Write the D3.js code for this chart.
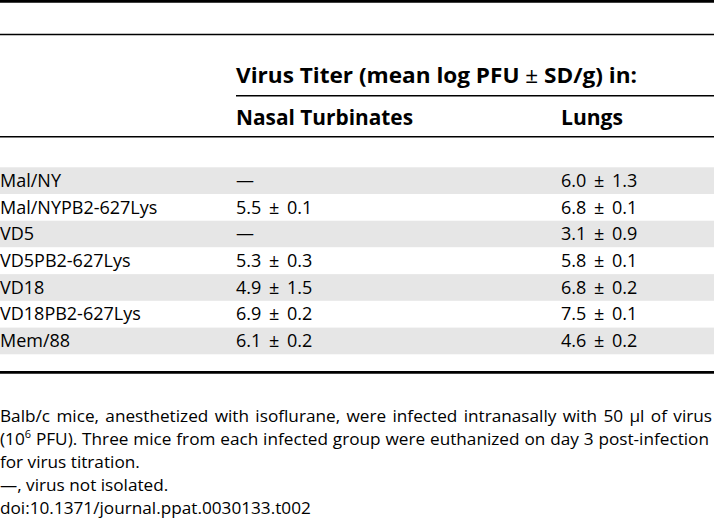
<!DOCTYPE html>
<html>
<head>
<meta charset="utf-8">
<script src="https://cdn.jsdelivr.net/npm/d3@7"></script>
<style>
  body { margin: 0; background: #fff; }
  svg text { font-family: "Open Sans", "Noto Sans", sans-serif; fill: #000; }
</style>
</head>
<body>
<script>
const w = 714;
const h = 521;

const strains = ["Mal/NY", "Mal/NYPB2-627Lys", "VD5", "VD5PB2-627Lys", "VD18", "VD18PB2-627Lys", "Mem/88"];
const nasalMean = [null, 5.5, null, 5.3, 4.9, 6.9, 6.1];
const nasalSD = [null, 0.1, null, 0.3, 1.5, 0.2, 0.2];
const lungMean = [6.0, 6.8, 3.1, 5.8, 6.8, 7.5, 4.6];
const lungSD = [1.3, 0.1, 0.9, 0.1, 0.2, 0.1, 0.2];
const groupHeader = ["Virus Titer (mean log PFU ", "\u00B1", " SD/g) in:"];
const columnHeaders = ["Nasal Turbinates", "Lungs"];
const footnotes = [
  "Balb/c mice, anesthetized with isoflurane, were infected intranasally with 50 \u00B5l of virus",
  "(10|6| PFU). Three mice from each infected group were euthanized on day 3 post-infection",
  "for virus titration.",
  "\u2014, virus not isolated.",
  "doi:10.1371/journal.ppat.0030133.t002"
];

const fmt = (m, s) => m == null ? "\u2014" : d3.format(".1f")(m) + " \u00B1 " + d3.format(".1f")(s);

const svg = d3.select("body")
              .append("svg")
              .attr("width", w)
              .attr("height", h)

const yScale = d3.scaleBand()
                 .domain(strains)
                 .range([167.3, 354.3])

const xCol = [0, 236, 561];

// striped rows
const rows = svg.selectAll(".row")
                .data(strains)
                .enter()
                .append("g")
                .attr("class", "row")
                .attr("transform", d => "translate(0," + yScale(d) + ")")

rows.append("rect")
    .attr("x", 0)
    .attr("width", w)
    .attr("height", yScale.bandwidth())
    .attr("fill", (d, i) => i % 2 == 0 ? "#e6e6e6" : "#fff")

rows.append("text")
    .attr("x", xCol[0])
    .attr("y", 19.5)
    .attr("font-size", 18)
    .text(d => d)

rows.append("text")
    .attr("x", xCol[1])
    .attr("y", 19.5)
    .attr("font-size", 18)
    .attr("word-spacing", 3)
    .text((d, i) => fmt(nasalMean[i], nasalSD[i]))

rows.append("text")
    .attr("x", xCol[2])
    .attr("y", 19.5)
    .attr("font-size", 18)
    .attr("word-spacing", 3)
    .text((d, i) => fmt(lungMean[i], lungSD[i]))

// rule lines
const rule = (y, x1, sw) => svg.append("line")
  .attr("x1", x1).attr("x2", w).attr("y1", y).attr("y2", y)
  .attr("stroke", "#000").attr("stroke-width", sw)
rule(1.3, 0, 2.7)
rule(34.4, 0, 1.5)
rule(95.7, 236, 1.4)
rule(136.7, 0, 1.4)
rule(372.3, 0, 2.7)

// header text
const head = svg.append("text")
   .attr("x", xCol[1])
   .attr("y", 82.7)
   .attr("font-size", 21.5)
   .attr("font-weight", "bold")
   .attr("textLength", 401)
   .attr("lengthAdjust", "spacingAndGlyphs")
groupHeader.forEach(function(part, j) {
  head.append("tspan")
      .attr("font-weight", j == 1 ? "normal" : null)
      .text(part)
})

svg.selectAll(".colhead")
   .data(columnHeaders)
   .enter()
   .append("text")
   .attr("class", "colhead")
   .attr("x", (d, i) => xCol[i + 1])
   .attr("y", 125)
   .attr("font-size", 21.5)
   .attr("font-weight", "bold")
   .attr("textLength", (d, i) => i == 0 ? 177 : 62)
   .attr("lengthAdjust", "spacingAndGlyphs")
   .text(d => d)

// footnotes, "|" marks superscript; first two lines are justified
footnotes.forEach(function(line, i) {
  const t = svg.append("text")
               .attr("x", 0)
               .attr("y", 421.5 + i * 23)
               .attr("font-size", 17.2)
  line.split("|").forEach(function(part, j) {
    t.append("tspan")
     .attr("font-size", j == 1 ? 11 : null)
     .attr("dy", j == 1 ? -7 : (j == 2 ? 7 : null))
     .text(part)
  })
  if (i < 2) {
    const natural = t.node().getComputedTextLength();
    const spaces = line.split(" ").length - 1;
    const target = i == 0 ? 712 : 709;
    t.attr("word-spacing", (target - natural) / spaces)
  }
})
</script>
</body>
</html>
